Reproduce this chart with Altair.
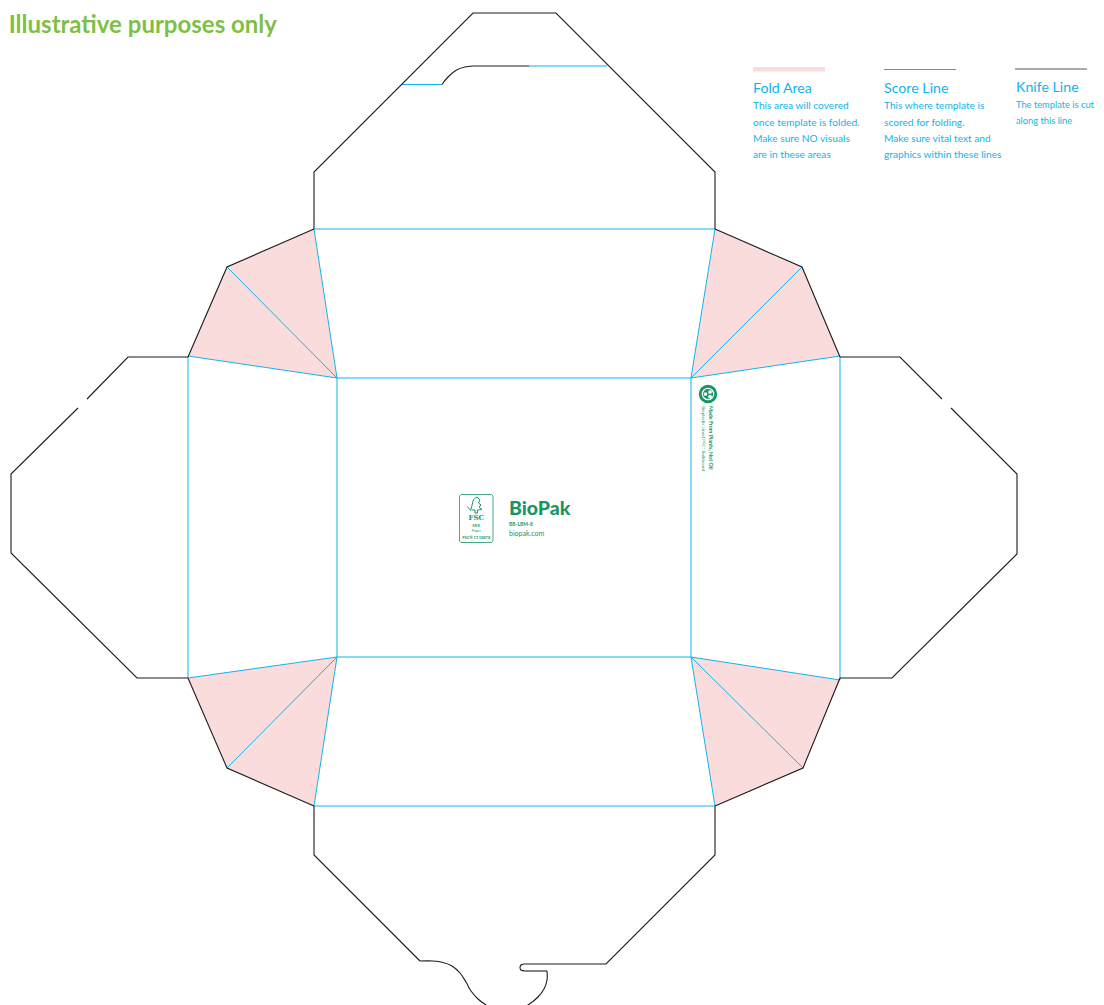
import altair as alt
import pandas as pd

W, H = 1088, 997
PINK = "#fbdcdc"
BLUE = "#12b3ec"
INK = "#1c1c1c"
GREEN = "#1a9463"
LIME = "#7fbf45"

fold_areas = [
    [(314, 229), (227, 267), (188, 356), (337, 378)],
    [(715, 229), (802, 267), (840, 356), (691, 378)],
    [(188, 678), (227, 768), (314, 806), (337, 657)],
    [(840, 680), (803, 768), (715, 806), (691, 657)],
]
fold_swatch = [(753, 67), (825, 67), (825, 71.5), (753, 71.5)]

score_lines = [
    [(337, 378), (691, 378), (691, 657), (337, 657), (337, 378)],
    [(314, 229), (715, 229)], [(188, 356), (188, 678)],
    [(840, 356), (840, 680)], [(314, 806), (715, 806)],
    [(314, 229), (337, 378)], [(715, 229), (691, 378)],
    [(188, 356), (337, 378)], [(840, 356), (691, 378)],
    [(188, 678), (337, 657)], [(840, 680), (691, 657)],
    [(314, 806), (337, 657)], [(715, 806), (691, 657)],
    [(227, 267), (337, 378)], [(802, 267), (691, 378)],
    [(227, 768), (337, 657)], [(803, 768), (691, 657)],
    [(402, 84.5), (442, 84.5)], [(529, 66), (607, 66)],
    [(884, 69.5), (956, 69.5)],
]

knife_lines = [
    [(314, 229), (314, 172), (473, 13), (556, 13), (715, 172), (715, 229)],
    [(473, 66), (529, 66)],
    [(314, 229), (227, 267), (188, 357)],
    [(715, 229), (802, 267), (840, 357)],
    [(188, 678), (227, 768), (314, 806)],
    [(840, 678), (803, 768), (715, 806)],
    [(188, 357), (128, 357), (87, 399)],
    [(78, 408), (11, 474), (11, 553), (137, 678), (188, 678)],
    [(840, 357), (900, 357), (942, 399)],
    [(951, 408), (1017, 474), (1017, 554), (892, 678), (840, 678)],
    [(314, 806), (314, 855), (420, 961)],
    [(547, 971), (525, 971)],
    [(524, 964), (606, 964), (715, 855), (715, 806)],
]

knife_curves = [
    [(442, 84.5), (448, 77), (456.5, 70), (465, 67), (473, 66)],
    [(420, 961), (433, 961), (443, 962.5), (452, 966), (460, 973), (466, 982),
     (471, 991), (478, 999), (486, 1005), (495, 1010), (507, 1012), (518, 1010),
     (528, 1005), (538, 997), (544, 989), (547, 980), (547, 971)],
    [(525, 971), (521, 970), (520, 967.5), (521, 965), (524, 964)],
]

legend_knife = [[(1015, 69), (1087, 69)]]

logo_box = [(461, 494.5), (491.5, 494.5), (493, 496), (493, 541), (491.5, 542.5),
            (461, 542.5), (459.5, 541), (459.5, 496), (461, 494.5)]
tree_marks = [
    [(467.3, 506.5), (470.7, 510.5), (473.5, 499.5), (477, 497), (480, 500),
     (478.5, 503), (481, 505), (479, 507), (482, 509.5), (477.5, 510), (477.5, 513),
     (475, 513), (475, 510), (472, 510)],
]

titles = ["Fold Area", "Score Line", "Knife Line"]
title_x = [753, 884, 1016]
title_y = [93, 93, 92]
body_lines = [
    "This area will covered", "once template is folded.", "Make sure NO visuals", "are in these areas",
    "This where template is", "scored for folding.", "Make sure vital text and", "graphics within these lines",
]
body_x = [753] * 4 + [884] * 4
body_y = [109, 126, 142, 158, 109, 126, 142, 158]
knife_body = ["The template is cut", "along this line"]
knife_body_x = [1016, 1016]
knife_body_y = [108, 124]

small_logo_text = ["BB-LBM-8", "biopak.com"]
small_logo_y = [526, 535.5]

x_scale = alt.Scale(domain=[8, 8 + W], nice=False, zero=False)
y_scale = alt.Scale(domain=[8, 8 + H], nice=False, zero=False, reverse=True)
X = alt.X("x:Q", scale=x_scale, axis=None)
Y = alt.Y("y:Q", scale=y_scale, axis=None)


def paths(groups):
    rows = []
    for g, pts in enumerate(groups):
        for i, (x, y) in enumerate(pts):
            rows.append({"g": g, "i": i, "x": x, "y": y})
    return pd.DataFrame(rows)


def line_layer(groups, color, width=1.0, interp="linear"):
    return alt.Chart(paths(groups)).mark_line(
        color=color, strokeWidth=width, interpolate=interp, clip=True
    ).encode(x=X, y=Y, detail="g:N", order="i:Q")


def poly_rows(pts):
    """Turn a convex polygon into top/bottom boundaries at each vertex x."""
    n = len(pts)
    rows = []
    for vx in sorted({p[0] for p in pts}):
        ys = []
        for k in range(n):
            (ax, ay), (bx, by) = pts[k], pts[(k + 1) % n]
            if min(ax, bx) <= vx <= max(ax, bx):
                if ax == bx:
                    ys += [ay, by]
                else:
                    ys.append(ay + (by - ay) * (vx - ax) / (bx - ax))
        rows.append({"x": vx, "y": min(ys), "y2": max(ys)})
    return rows


def area_layer(pts):
    return alt.Chart(pd.DataFrame(poly_rows(pts))).mark_area(
        color=PINK, opacity=1, interpolate="linear"
    ).encode(x=X, y=Y, y2="y2:Q")


def text_layer(texts, xs, ys, size, color, font, weight="normal", align="left", angle=0, baseline="alphabetic"):
    df = pd.DataFrame({"t": texts, "x": xs, "y": ys})
    return alt.Chart(df).mark_text(
        font=font, fontSize=size, color=color, fontWeight=weight,
        align=align, angle=angle, baseline=baseline,
    ).encode(x=X, y=Y, text="t:N")


def dot_layer(x, y, size, color, filled=True, sw=0):
    df = pd.DataFrame({"x": [x], "y": [y]})
    return alt.Chart(df).mark_point(
        shape="circle", filled=filled, color=color, size=size, opacity=1, strokeWidth=sw
    ).encode(x=X, y=Y)


NARROW = "Lato"
layers = [area_layer(p) for p in fold_areas] + [
    area_layer(fold_swatch),
    line_layer(score_lines, BLUE, 1.0),
    line_layer(knife_lines, INK, 1.1),
    line_layer(knife_curves, INK, 1.1, "catmull-rom"),
    line_layer(legend_knife, "#555555", 1.2),
    line_layer([logo_box], GREEN, 0.8),
    line_layer(tree_marks, GREEN, 1.0),
    text_layer(["Illustrative purposes only"], [277], [33], 24, LIME, "Lato", "bold", align="right"),
    text_layer(titles, title_x, title_y, 14.2, BLUE, NARROW),
    text_layer(body_lines, body_x, body_y, 10.2, BLUE, NARROW),
    text_layer(knife_body, knife_body_x, knife_body_y, 9.3, BLUE, NARROW),
    text_layer(["BioPak"], [509], [515], 19.5, GREEN, "Lato", 900),
    text_layer(small_logo_text[:1], [509], small_logo_y[:1], 5, GREEN, "Lato", "bold"),
    text_layer(small_logo_text[1:], [509], small_logo_y[1:], 7, GREEN, "Lato"),
    text_layer(["FSC"], [476.3], [519.5], 7, GREEN, "DejaVu Serif", "bold", align="center"),
    text_layer(["MIX"], [476.3], [527], 4, GREEN, "Lato", "bold", align="center"),
    text_layer(["Paper"], [476.3], [532], 3.5, GREEN, "Lato", align="center"),
    text_layer(["FSC® C110878"], [476.3], [539], 4, GREEN, "Lato", "bold", align="center"),
    dot_layer(708, 394, 340, GREEN),
    dot_layer(708, 394, 130, "#ffffff", filled=False, sw=1.2),
    dot_layer(705.5, 394, 14, "#ffffff"),
    dot_layer(710, 392, 14, "#ffffff"),
    dot_layer(710, 396.5, 14, "#ffffff"),
    text_layer(["Made From Plants, Not Oil"], [711], [406], 5.4, GREEN, "Lato", "bold", angle=90, baseline="middle"),
    text_layer(["Bioplastic Lined PFC* Bulkboard"], [703], [406], 4.6, GREEN, "Lato", angle=90, baseline="middle"),
]

chart = alt.layer(*layers).properties(
    width=W, height=H, padding=0, autosize=alt.AutoSizeParams(type="none"),
    background="#ffffff",
).configure_view(stroke=None)

chart.save("out.html", embed_options={"renderer": "svg", "actions": False})
